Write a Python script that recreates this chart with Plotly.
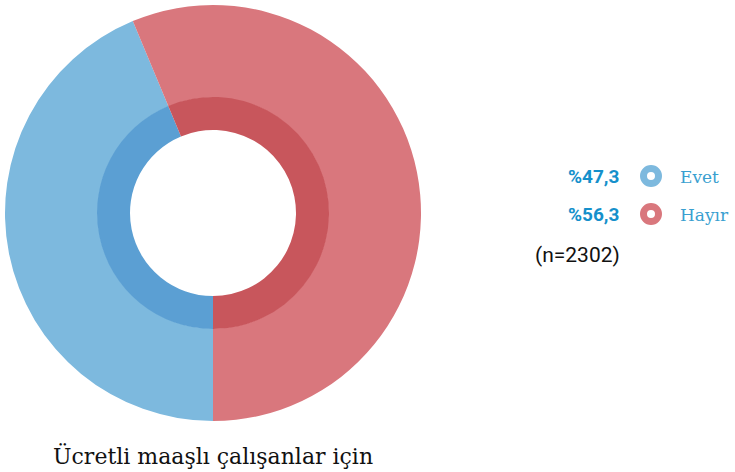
import plotly.graph_objects as go

categories = ["Evet", "Hayır"]
slice_values = [43.7, 56.3]          # shares as drawn in the picture
legend_labels = ["Evet", "Hayır"]
legend_values = ["%47,3", "%56,3"]
n_text = "(n=2302)"
title_text = "Ücretli maaşlı çalışanlar için"

outer_colors = ["#7db9de", "#d9777d"]
inner_colors = ["#5b9fd3", "#c8565c"]
W, H = 735, 472

fig = go.Figure()
fig.add_trace(go.Pie(
    labels=categories, values=slice_values, sort=False, direction="clockwise",
    rotation=180, hole=0.555, textinfo="none", hoverinfo="label+percent",
    marker=dict(colors=outer_colors, line=dict(width=0)),
    domain=dict(x=[5 / W, 421 / W], y=[(H - 421) / H, (H - 5) / H]),
    showlegend=False,
))
fig.add_trace(go.Pie(
    labels=categories, values=slice_values, sort=False, direction="clockwise",
    rotation=180, hole=0.7155, textinfo="none", hoverinfo="label+percent",
    marker=dict(colors=inner_colors, line=dict(width=0)),
    domain=dict(x=[97 / W, 329 / W], y=[(H - 329) / H, (H - 97) / H]),
    showlegend=False,
))

ys = [176, 214]
annotations = []
shapes = []
for lab, val, col, y in zip(legend_labels, legend_values, outer_colors, ys):
    annotations.append(dict(x=621 / W, y=1 - y / H, xref="paper", yref="paper",
                            text=f"<b>{val}</b>", showarrow=False, xanchor="right", yanchor="middle",
                            font=dict(family="Roboto", size=19, color="#1590cb")))
    annotations.append(dict(x=678 / W, y=1 - (y + 1) / H, xref="paper", yref="paper",
                            text=lab, showarrow=False, xanchor="left", yanchor="middle",
                            font=dict(family="DejaVu Serif", size=17, color="#3a9fd0")))
    r = 7.5
    shapes.append(dict(type="circle", xref="paper", yref="paper",
                       x0=(651 - r) / W, x1=(651 + r) / W, y0=1 - (y + r) / H, y1=1 - (y - r) / H,
                       fillcolor="white", line=dict(color=col, width=7)))
annotations.append(dict(x=622 / W, y=1 - 255 / H, xref="paper", yref="paper", text=n_text,
                        showarrow=False, xanchor="right", yanchor="middle",
                        font=dict(family="Roboto", size=21, color="#111111")))
annotations.append(dict(x=213 / W, y=1 - 456 / H, xref="paper", yref="paper", text=title_text,
                        showarrow=False, xanchor="center", yanchor="middle",
                        font=dict(family="DejaVu Serif", size=22, color="#111111")))

fig.update_layout(width=W, height=H, margin=dict(l=0, r=0, t=0, b=0),
                  paper_bgcolor="white", plot_bgcolor="white",
                  annotations=annotations, shapes=shapes)
fig.write_html("out.html")
